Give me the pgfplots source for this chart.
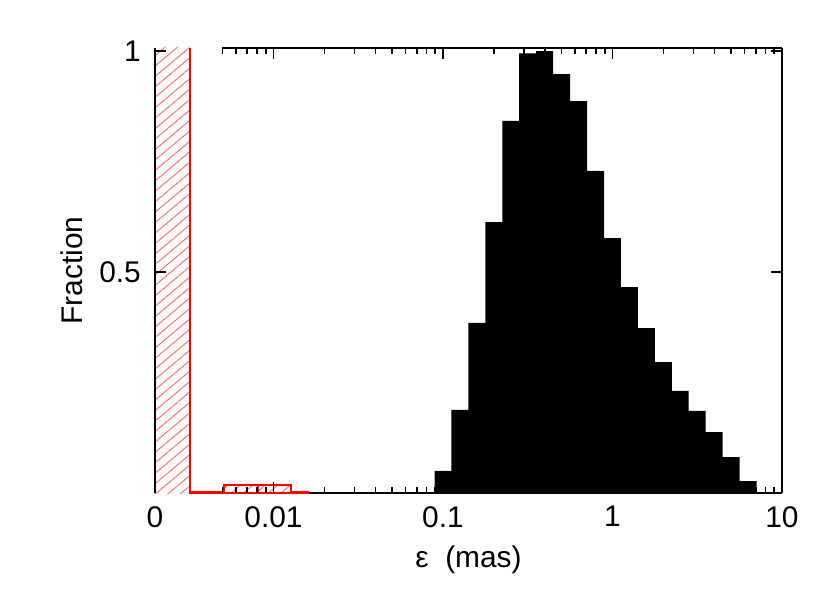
\documentclass[border=0pt]{standalone}
\usepackage{fontspec}
\setmainfont{Liberation Sans}
\usepackage{pgfplots}
\pgfplotsset{compat=1.18}
\usetikzlibrary{patterns.meta}

\begin{document}
\fontsize{30}{34}\selectfont
\begin{tikzpicture}
\path[use as bounding box] (-155bp,-100bp) rectangle (675bp,493bp);
\begin{axis}[
    at={(0,0)}, anchor=south west,
    scale only axis,
    width=627bp, height=445bp,
    xmode=log,
    xmin=0.002, xmax=10,
    ymin=0, ymax=1.007,
    clip=false,
    axis on top,
    axis line style={draw=none},
    tick align=inside,
    major tick length=11bp,
    minor tick length=6bp,
    tick style={black, line width=1.6bp},
    xtick={0.01,0.1,1,10},
    xticklabels={0.01,0.1,1,10},
    minor xtick={0.005,0.006,0.007,0.008,0.009,
                 0.02,0.03,0.04,0.05,0.06,0.07,0.08,0.09,
                 0.2,0.3,0.4,0.5,0.6,0.7,0.8,0.9,
                 2,3,4,5,6,7,8,9},
    extra x ticks={0.002},
    extra x tick labels={0},
    extra x tick style={major tick length=0pt},
    ytick={0.5,1},
    yticklabels={0.5,\raisebox{-6bp}{1}},
    tick label style={font=\fontsize{30}{34}\selectfont},
    xticklabel style={yshift=-3bp},
    yticklabel style={xshift=-4bp},
    label style={font=\fontsize{30}{34}\selectfont},
    xlabel style={yshift=2bp},
    ylabel style={yshift=-4bp},
    xlabel={ε\ \ (mas)},
    ylabel={Fraction},
]
% main histogram (black)
\addplot[ybar interval, fill=black, draw=none] coordinates {
    (0.08913,0.050) (0.1122,0.188) (0.1413,0.385) (0.1778,0.613)
    (0.2239,0.842) (0.2818,0.995) (0.3548,1.0) (0.4467,0.948)
    (0.5623,0.887) (0.7079,0.729) (0.8913,0.577) (1.122,0.466)
    (1.413,0.373) (1.778,0.296) (2.239,0.231) (2.818,0.186)
    (3.548,0.138) (4.467,0.081) (5.623,0.027) (7.079,0)
};
% zero bin (red hatched)
\addplot[ybar interval, draw=none,
    pattern={Lines[angle=40,distance=8bp,line width=0.9bp]},
    pattern color=red!60] coordinates {
    (0.002,1.007) (0.003206,0)
};
\addplot[red, line width=2bp] coordinates {(0.003206,1.007) (0.003206,0)};
% frame
\draw[line width=2.2bp] (axis cs:0.002,0) -- (axis cs:0.002,1.007);
\draw[line width=2.2bp] (axis cs:10,0) -- (axis cs:10,1.007);
\draw[line width=2.2bp] (axis cs:0.005,0) -- (axis cs:10,0);
\draw[line width=2.2bp] (axis cs:0.005,1.007) -- (axis cs:10,1.007);
% small red bins
\addplot[ybar interval, draw=red, line width=2bp,
    pattern={Lines[angle=40,distance=8bp,line width=0.9bp]},
    pattern color=red!60] coordinates {
    (0.003206,0.003) (0.005082,0.018) (0.008054,0.019) (0.01276,0.002) (0.01607,0)
};
\end{axis}
\end{tikzpicture}
\end{document}
